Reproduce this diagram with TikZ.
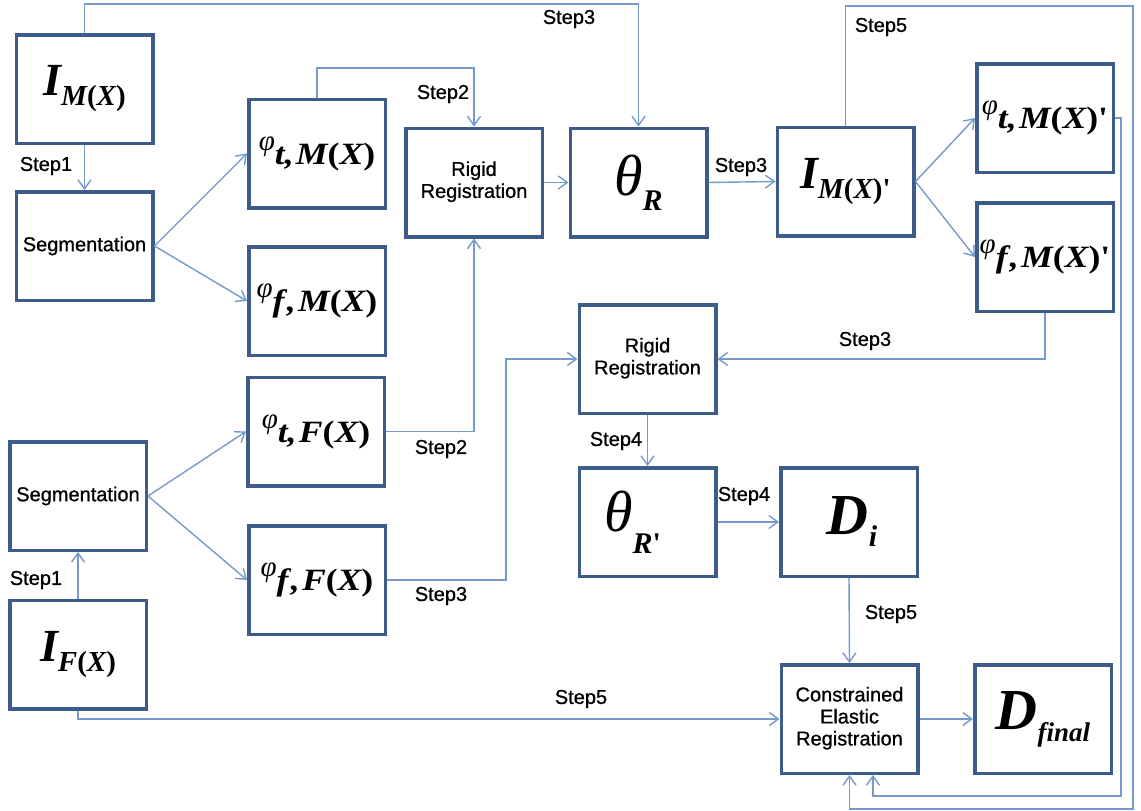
\documentclass[tikz,border=0pt]{standalone}
\usepackage{fontspec}
\usepackage{graphicx}
\setmainfont[FakeBold=0.9]{Liberation Sans}
\newfontfamily\symfont{Liberation Serif}
\usetikzlibrary{arrows.meta}

\definecolor{boxblue}{RGB}{62,92,138}
\definecolor{linkblue}{RGB}{118,154,204}

% font helpers for the symbol labels
\newcommand{\fsz}[1]{\fontsize{#1}{#1}\selectfont}
\newcommand{\ital}[2]{{\symfont\itshape\fsz{#1}#2}}
\newcommand{\bital}[2]{{\symfont\bfseries\itshape\fsz{#1}#2}}
\newcommand{\upp}[2]{{\symfont\bfseries\upshape\fsz{#1}#2}}
\newcommand{\argof}[2]{\bital{#1}{#2}\upp{#1}{(}\bital{#1}{X}\upp{#1}{)}}
\newcommand{\imgsym}[2]{\bital{46}{I}\raisebox{-10pt}{#1#2}}
\newcommand{\phisym}[2]{\raisebox{9pt}{\ital{29}{φ}}\raisebox{-5pt}{\scalebox{1.15}[1]{\bital{31}{#1,}\hspace{2pt}#2}}}
\newcommand{\twolines}[2]{\begin{tabular}{@{}c@{}}#1\\#2\end{tabular}}

\begin{document}
\begin{tikzpicture}[x=1pt,y=-1pt,
  box/.style={draw=boxblue, line width=3.5pt, fill=white,
    minimum width=136.5pt, minimum height=108.5pt, inner sep=0pt, align=center,
    font=\fontsize{20}{22}\selectfont},
  link/.style={draw=linkblue, line width=1.4pt,
    -{Straight Barb[length=9pt,width=13pt,line width=1.4pt]}},
  lbl/.style={font=\fsz{20}, inner sep=0pt}]

\useasboundingbox[fill=white] (0,0) rectangle (1141,811);

% ---- boxes ----
\node[box] (IM)     at (84.5,89)   {\imgsym{\argof{29}{M}}{}};
\node[box] (Seg1)   at (84.5,246)  {Segmentation};
\node[box] (phiTM)  at (317,153.5) {\phisym{t}{\argof{31}{M}}};
\node[box] (phiFM)  at (317,301)   {\phisym{f\hspace{2pt}}{\argof{31}{M}}};
\node[box] (RR1)    at (474,182.5) {\raisebox{7pt}{\twolines{Rigid}{Registration}}};
\node[box] (thR)    at (638.5,182.5) {\ital{58}{θ}\raisebox{-15pt}{\bital{30}{R}}};
\node[box] (IMp)    at (845.5,181.5) {\imgsym{\argof{29}{M}}{\upp{29}{'}}};
\node[box] (phiTMp) at (1045,118)  {\phisym{t}{\argof{31}{M}\upp{31}{'}}};
\node[box] (phiFMp) at (1045,257)  {\phisym{f\hspace{2pt}}{\argof{31}{M}\upp{31}{'}}};
\node[box] (RR2)    at (647.5,359) {\twolines{Rigid}{Registration}};
\node[box] (thRp)   at (647.5,522) {\raisebox{6pt}{\ital{58}{θ}\raisebox{-22pt}{\bital{30}{R}\upp{30}{'}}}\hspace{30pt}};
\node[box] (Di)     at (849,522)   {\hspace{6pt}\bital{58}{D}\raisebox{-12pt}{\bital{30}{i}}};
\node[box] (phiTF)  at (316,431.5) {\phisym{t}{\argof{31}{F}}};
\node[box] (phiFF)  at (317,580)   {\phisym{f\hspace{2pt}}{\argof{31}{F}}};
\node[box] (Seg2)   at (78,496)    {Segmentation};
\node[box] (IF)     at (78,654.5)  {\imgsym{\argof{29}{F}}{}};
\node[box] (CER)    at (849.5,719) {\begin{tabular}{@{}c@{}}Constrained\\Elastic\\Registration\end{tabular}};
\node[box] (Dfin)   at (1043,719)  {\bital{58}{D}\raisebox{-12pt}{\bital{27}{final}}};

% ---- bend points ----
\coordinate (topA)   at (84.5,4);
\coordinate (topB)   at (317,68);
\coordinate (topC)   at (845.5,6);
\coordinate (outerR) at (1133,809);
\coordinate (innerR) at (1121,796);
\coordinate (innerE) at (873,796);
\coordinate (midA)   at (506,580);

% ---- connectors ----
\draw[link] (IM.south) -- (Seg1.north);
\draw[link] (Seg1.east) -- (phiTM.west);
\draw[link] (Seg1.east) -- (phiFM.west);
\draw[link] (IM.north) -- (topA) -| (thR.north);
\draw[link] (phiTM.north) -- (topB) -| (RR1.north);
\draw[link] (phiTF.east) -| (RR1.south);
\draw[link] (RR1.east) -- (thR.west);
\draw[link] (thR.east) -- (IMp.west);
\draw[link] (IMp.east) -- (phiTMp.west);
\draw[link] (IMp.east) -- (phiFMp.west);
\draw[link] (IMp.north) -- (topC) -| (outerR) -| (CER.south);
\draw[link] (phiTMp.east) -| (innerR) -- (innerE) -- (innerE |- CER.south);
\draw[link] (phiFMp.south) |- (RR2.east);
\draw[link] (phiFF.east) -- (midA) |- (RR2.west);
\draw[link] (RR2.south) -- (thRp.north);
\draw[link] (thRp.east) -- (Di.west);
\draw[link] (Di.south) -- (CER.north);
\draw[link] (IF.south) |- (CER.west);
\draw[link] (CER.east) -- (Dfin.west);
\draw[link] (Seg2.east) -- (phiTF.west);
\draw[link] (Seg2.east) -- (phiFF.west);
\draw[link] (IF.north) -- (Seg2.south);

% ---- step labels ----
\node[lbl] (s1a) at (46,166)  {Step1};
\node[lbl] (s3a) at (569,19)  {Step3};
\node[lbl] (s2a) at (443,94)  {Step2};
\node[lbl] (s3b) at (741,167) {Step3};
\node[lbl] (s5a) at (881,27)  {Step5};
\node[lbl] (s3c) at (865,341) {Step3};
\node[lbl] (s4a) at (616,441) {Step4};
\node[lbl] (s4b) at (744,496) {Step4};
\node[lbl] (s2b) at (441,449) {Step2};
\node[lbl] (s3d) at (441,596) {Step3};
\node[lbl] (s1b) at (36,580)  {Step1};
\node[lbl] (s5b) at (581,699) {Step5};
\node[lbl] (s5c) at (891,614) {Step5};
\end{tikzpicture}
\end{document}
